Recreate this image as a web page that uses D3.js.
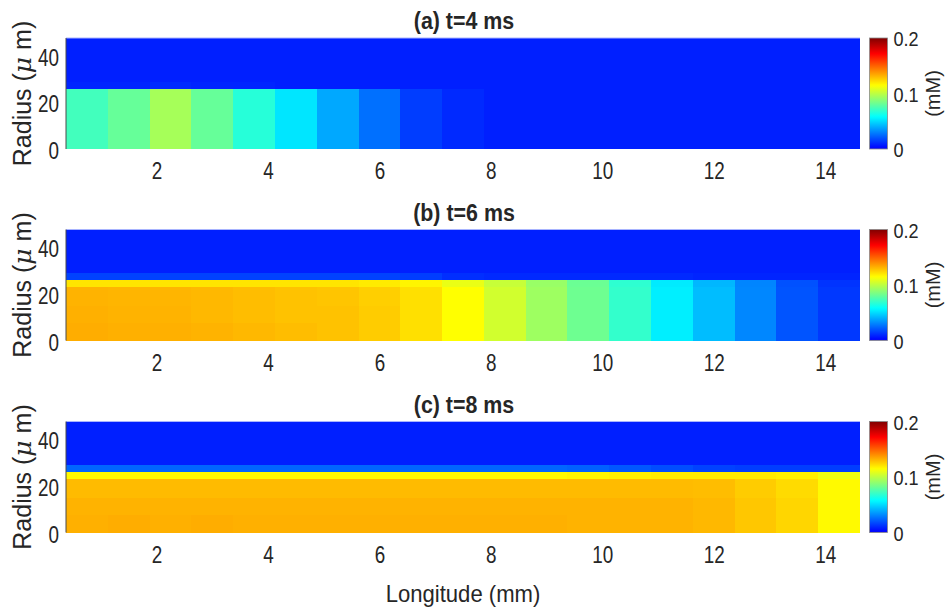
<!DOCTYPE html>
<html>
<head>
<meta charset="utf-8">
<script src="https://cdn.jsdelivr.net/npm/d3@7/dist/d3.min.js"></script>
<style>
  html, body { margin: 0; padding: 0; background: #fff; }
  svg { display: block; }
  text { font-family: "Liberation Sans", Arial, Helvetica, sans-serif; fill: #262626; }
</style>
</head>
<body>
<svg id="chart" width="946" height="609"></svg>
<script>
// Cell centres along the vessel (mm)
const longitude = [0.75, 1.5, 2.25, 3, 3.75, 4.5, 5.25, 6, 6.75, 7.5, 8.25, 9, 9.75, 10.5, 11.25, 12, 12.75, 13.5, 14.25];
// Radial cell edges (µm), bottom to top
const radiusEdges = [0, 7.5, 15, 23, 26, 29, 47.5];
const xTicks = [2, 4, 6, 8, 10, 12, 14];
const yTicks = [0, 20, 40];
const cbarTicks = [0, 0.1, 0.2];
const panelTitles = ["(a) t=4 ms", "(b) t=6 ms", "(c) t=8 ms"];

// Concentration (mM), one row per radial band (bottom to top), one value per column
const conc4ms = [
  [0.0727, 0.0807, 0.0949, 0.0807, 0.0665, 0.0523, 0.0386, 0.0261, 0.0148, 0.0102, 0.008, 0.008, 0.008, 0.008, 0.008, 0.008, 0.008, 0.008, 0.008],
  [0.0727, 0.0807, 0.0949, 0.0807, 0.0665, 0.0523, 0.0386, 0.0261, 0.0148, 0.0102, 0.008, 0.008, 0.008, 0.008, 0.008, 0.008, 0.008, 0.008, 0.008],
  [0.0727, 0.0807, 0.0949, 0.0807, 0.0665, 0.0523, 0.0386, 0.0261, 0.0148, 0.0102, 0.008, 0.008, 0.008, 0.008, 0.008, 0.008, 0.008, 0.008, 0.008],
  [0.0727, 0.0807, 0.0949, 0.0807, 0.0665, 0.0523, 0.0386, 0.0261, 0.0148, 0.0102, 0.008, 0.008, 0.008, 0.008, 0.008, 0.008, 0.008, 0.008, 0.008],
  [0.0091, 0.0091, 0.0102, 0.0091, 0.0091, 0.008, 0.008, 0.008, 0.008, 0.008, 0.008, 0.008, 0.008, 0.008, 0.008, 0.008, 0.008, 0.008, 0.008],
  [0.008, 0.008, 0.008, 0.008, 0.008, 0.008, 0.008, 0.008, 0.008, 0.008, 0.008, 0.008, 0.008, 0.008, 0.008, 0.008, 0.008, 0.008, 0.008]
];
const conc6ms = [
  [0.1330, 0.1324, 0.1324, 0.1318, 0.1307, 0.1295, 0.1284, 0.1261, 0.1216, 0.1148, 0.1045, 0.0932, 0.0824, 0.0693, 0.0545, 0.0432, 0.0313, 0.0199, 0.0136],
  [0.1324, 0.1318, 0.1318, 0.1307, 0.1295, 0.1284, 0.1284, 0.1261, 0.1216, 0.1148, 0.1045, 0.0932, 0.0824, 0.0693, 0.0545, 0.0432, 0.0313, 0.0199, 0.0136],
  [0.1318, 0.1312, 0.1312, 0.1307, 0.1295, 0.1284, 0.1278, 0.1255, 0.1216, 0.1148, 0.1045, 0.0932, 0.0824, 0.0693, 0.0545, 0.0432, 0.0313, 0.0199, 0.0136],
  [0.1205, 0.1205, 0.1205, 0.1205, 0.1205, 0.1205, 0.1205, 0.1193, 0.1170, 0.1102, 0.1023, 0.0920, 0.0818, 0.0682, 0.0534, 0.0420, 0.0307, 0.0193, 0.0125],
  [0.0159, 0.0159, 0.0159, 0.0159, 0.0159, 0.0159, 0.0159, 0.0159, 0.0148, 0.0114, 0.0102, 0.0102, 0.0102, 0.0102, 0.0102, 0.0091, 0.0091, 0.0091, 0.0091],
  [0.008, 0.008, 0.008, 0.008, 0.008, 0.008, 0.008, 0.008, 0.008, 0.008, 0.008, 0.008, 0.008, 0.008, 0.008, 0.008, 0.008, 0.008, 0.008]
];
const conc8ms = [
  [0.1324, 0.1330, 0.1324, 0.1330, 0.1324, 0.1324, 0.1324, 0.1324, 0.1324, 0.1324, 0.1324, 0.1324, 0.1318, 0.1318, 0.1318, 0.1307, 0.1273, 0.1239, 0.1159],
  [0.1318, 0.1318, 0.1318, 0.1318, 0.1318, 0.1318, 0.1318, 0.1318, 0.1318, 0.1318, 0.1318, 0.1318, 0.1318, 0.1318, 0.1318, 0.1307, 0.1273, 0.1239, 0.1159],
  [0.1300, 0.1300, 0.1300, 0.1300, 0.1300, 0.1300, 0.1300, 0.1300, 0.1300, 0.1300, 0.1300, 0.1300, 0.1300, 0.1300, 0.1300, 0.1295, 0.1261, 0.1227, 0.1159],
  [0.1159, 0.1159, 0.1159, 0.1159, 0.1159, 0.1159, 0.1159, 0.1159, 0.1159, 0.1159, 0.1159, 0.1159, 0.1170, 0.1182, 0.1193, 0.1193, 0.1193, 0.1182, 0.1114],
  [0.0239, 0.0239, 0.0239, 0.0239, 0.0239, 0.0239, 0.0239, 0.0239, 0.0239, 0.0239, 0.0239, 0.0239, 0.0227, 0.0205, 0.0182, 0.0159, 0.0148, 0.0148, 0.0148],
  [0.008, 0.008, 0.008, 0.008, 0.008, 0.008, 0.008, 0.008, 0.008, 0.008, 0.008, 0.008, 0.008, 0.008, 0.008, 0.008, 0.008, 0.008, 0.008]
];
const panelData = [conc4ms, conc6ms, conc8ms];

// Jet-style colour map over the colour limits [0, 0.2] mM, starting from full blue
const cmin = 0, cmax = 0.2;
const mapStops = [0, 0.0057, 0.2898, 0.5739, 0.8580, 1];
const mapColors = ["#0808f0", "#0000ff", "#00ffff", "#ffff00", "#ff0000", "#800000"];
const color = d3.scaleLinear()
  .domain(mapStops.map(t => cmin + t * (cmax - cmin)))
  .range(mapColors)
  .interpolate(d3.interpolateRgb)
  .clamp(true);

const svg = d3.select("#chart");
const plotLeft = 66, plotRight = 860;
const panelTops = [38, 229.5, 421.5];
const plotH = 111;
const cbarX = 869.5, cbarW = 18;

// Cell edges along x: half a cell either side of each centre
const dx = longitude[1] - longitude[0];
const x = d3.scaleLinear()
  .domain([longitude[0] - dx / 2, longitude[longitude.length - 1] + dx / 2])
  .range([plotLeft, plotRight]);

function squeeze(sel, k) {
  sel.each(function () {
    const L = this.getComputedTextLength();
    d3.select(this).attr("textLength", L * k).attr("lengthAdjust", "spacingAndGlyphs");
  });
}

// Colour bar gradient
const defs = svg.append("defs");
const grad = defs.append("linearGradient").attr("id", "jetGrad")
  .attr("x1", 0).attr("y1", 1).attr("x2", 0).attr("y2", 0);
d3.range(0, 65).forEach(i => {
  const v = cmin + (i / 64) * (cmax - cmin);
  grad.append("stop").attr("offset", (i / 64)).attr("stop-color", color(v));
});

panelData.forEach((rows, p) => {
  const top = panelTops[p];
  const y = d3.scaleLinear()
    .domain([radiusEdges[0], radiusEdges[radiusEdges.length - 1]])
    .range([top + plotH, top]);
  const g = svg.append("g");

  // Heat-map cells
  const cells = [];
  rows.forEach((row, r) => {
    row.forEach((v, c) => {
      cells.push({ c, r, v });
    });
  });
  g.selectAll("rect.cell").data(cells).join("rect")
    .attr("class", "cell")
    .attr("x", d => x(longitude[d.c] - dx / 2))
    .attr("width", d => x(longitude[d.c] + dx / 2) - x(longitude[d.c] - dx / 2) + 0.4)
    .attr("y", d => y(radiusEdges[d.r + 1]))
    .attr("height", d => y(radiusEdges[d.r]) - y(radiusEdges[d.r + 1]) + 0.4)
    .attr("fill", d => color(d.v))
    .attr("shape-rendering", "crispEdges");

  // Axis edges
  g.append("line").attr("x1", plotLeft).attr("x2", plotRight)
    .attr("y1", top).attr("y2", top)
    .attr("stroke", "#a8b4ff").attr("stroke-width", 1);
  g.append("line").attr("x1", plotLeft).attr("x2", plotLeft)
    .attr("y1", top).attr("y2", top + plotH)
    .attr("stroke", "#4a4a4a").attr("stroke-width", 1);

  // x axis
  const xAxis = g.append("g").attr("transform", `translate(0,${top + plotH})`)
    .call(d3.axisBottom(x).tickValues(xTicks).tickSize(0).tickPadding(14).tickFormat(d3.format("d")));
  xAxis.select(".domain").remove();
  xAxis.selectAll("text").attr("font-size", 23).attr("font-family", "Liberation Sans, Arial, sans-serif").attr("fill", "#262626")
    .call(squeeze, 0.82);

  // y axis
  const yAxis = g.append("g").attr("transform", `translate(${plotLeft},0)`)
    .call(d3.axisLeft(y).tickValues(yTicks).tickSize(0).tickPadding(7).tickFormat(d3.format("d")));
  yAxis.select(".domain").remove();
  yAxis.selectAll("text").attr("font-size", 23).attr("font-family", "Liberation Sans, Arial, sans-serif").attr("fill", "#262626")
    .attr("dy", "0.42em")
    .call(squeeze, 0.82);

  // Title
  g.append("text")
    .attr("x", (plotLeft + plotRight) / 2 + 1).attr("y", top - 9)
    .attr("text-anchor", "middle").attr("font-size", 23).attr("font-weight", "bold").attr("fill", "#000")
    .text(panelTitles[p])
    .call(squeeze, 0.93);

  // y label
  const yl = g.append("text")
    .attr("transform", `translate(31,${top + plotH / 2}) rotate(-90)`)
    .attr("text-anchor", "middle").attr("font-size", 25);
  yl.append("tspan").text("Radius (");
  yl.append("tspan").attr("font-family", "DejaVu Serif, serif").attr("font-style", "italic").text("μ");
  yl.append("tspan").text(" m)");

  // Colour bar
  const cy = d3.scaleLinear().domain([cmin, cmax]).range([top + plotH, top]);
  g.append("rect").attr("x", cbarX).attr("y", top).attr("width", cbarW).attr("height", plotH)
    .attr("fill", "url(#jetGrad)").attr("stroke", "#8a8a8a").attr("stroke-width", 0.8);
  const cAxis = g.append("g").attr("transform", `translate(${cbarX + cbarW},0)`)
    .call(d3.axisRight(cy).tickValues(cbarTicks).tickSize(0).tickPadding(6).tickFormat(d => d === 0 ? "0" : d3.format(".1f")(d)));
  cAxis.select(".domain").remove();
  cAxis.selectAll("text").attr("font-size", 21).attr("font-family", "Liberation Sans, Arial, sans-serif").attr("fill", "#262626")
    .attr("dy", "0.36em")
    .call(squeeze, 0.86);
  g.append("text")
    .attr("transform", `translate(940,${top + plotH / 2}) rotate(-90)`)
    .attr("text-anchor", "middle").attr("font-size", 20)
    .text("(mM)");
});

// Shared x label
svg.append("text").attr("x", (plotLeft + plotRight) / 2).attr("y", 602)
  .attr("text-anchor", "middle").attr("font-size", 24)
  .text("Longitude (mm)")
  .call(squeeze, 0.92);
</script>
</body>
</html>
